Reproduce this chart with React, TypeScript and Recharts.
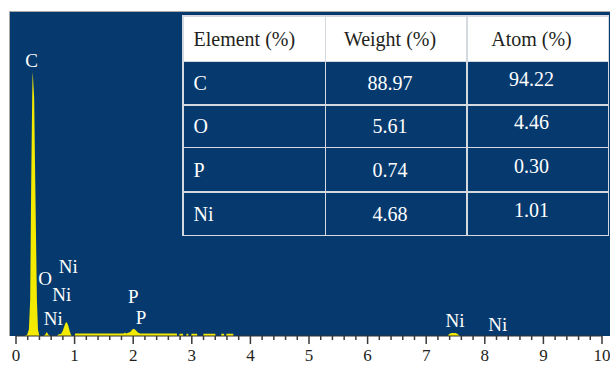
import React from 'react';
import { ComposedChart, Area, XAxis, YAxis, ReferenceDot } from 'recharts';

// EDS spectrum: energy (keV) and counts
const spectrumEnergy = [
  0, 0.15, 0.19, 0.22, 0.242, 0.26, 0.276, 0.283, 0.29, 0.31, 0.328, 0.357, 0.375, 0.4,
  0.47, 0.5, 0.525, 0.55, 0.58,
  0.7, 0.72, 0.77, 0.8, 0.84, 0.865, 0.89, 0.92, 0.94, 0.955,
  1.0, 1.01, 1.84, 1.86, 1.88, 1.95, 1.98, 2.01, 2.04, 2.08, 2.12, 2.745,
  2.75, 2.785, 2.79, 2.85, 2.855, 2.905, 2.91, 2.94, 2.945, 2.99, 2.995, 3.09, 3.095,
  3.195, 3.2, 3.4, 3.405, 3.5, 3.505, 3.55, 3.555, 3.587, 3.592, 3.707, 3.712,
  7.37, 7.39, 7.43, 7.5, 7.54, 7.57, 10,
];
const spectrumCounts = [
  0, 0, 12, 60, 333, 1444, 2200, 2445, 2400, 2200, 1444, 333, 60, 0,
  0, 15, 38, 15, 0,
  0, 15, 20, 50, 115, 130, 100, 40, 10, 0,
  0, 22, 22, 32, 24, 36, 58, 68, 55, 32, 22, 22,
  0, 0, 20, 20, 0, 0, 20, 20, 0, 0, 20, 20, 0,
  0, 20, 20, 0, 0, 20, 20, 0, 0, 20, 20, 0,
  0, 18, 28, 28, 18, 0, 0,
];

// Peak annotations
const peakLabels = ['C', 'O', 'Ni', 'Ni', 'Ni', 'P', 'P', 'Ni', 'Ni'];
const peakLabelEnergy = [0.268, 0.495, 0.892, 0.78, 0.637, 2.0, 2.133, 7.49, 8.22];
const peakLabelCounts = [2556, 537, 642, 389, 164, 370, 169, 148, 111];

// Axis ticks
const majorTicks = [0, 1, 2, 3, 4, 5, 6, 7, 8, 9, 10];
const allTicks = Array.from({ length: 51 }, (_, i) => i / 5);

// Composition table
const tableHeaders = ['Element (%)', 'Weight (%)', 'Atom (%)'];
const elements = ['C', 'O', 'P', 'Ni'];
const weightPct = [88.97, 5.61, 0.74, 4.68];
const atomPct = [94.22, 4.46, 0.3, 1.01];

const data = spectrumEnergy.map((e, i) => ({ energy: e, counts: spectrumCounts[i] }));

const SERIF = '"Liberation Serif", "Times New Roman", serif';
const BLUE = '#063a6e';
const YELLOW = '#f4ea00';
const LINE = '#d4d9e0';

const EnergyTick = (props: any) => {
  const { x, y, payload } = props;
  const v = payload.value as number;
  const major = majorTicks.some((m) => Math.abs(v - m) < 1e-6);
  return (
    <g>
      <line x1={x} y1={y} x2={x} y2={y + (major ? 8 : 4)} stroke="#3a3a3a" strokeWidth={1.5} />
      {major && (
        <text
          x={x}
          y={y + 19.5}
          textAnchor="middle"
          dominantBaseline="central"
          fontFamily={SERIF}
          fontSize={17}
          fill="#231f20"
        >
          {Math.round(v)}
        </text>
      )}
    </g>
  );
};

const rowHeights = [44, 42, 41, 43, 42];

function CompositionTable() {
  const cell = (text: string, col: number, header: boolean, key: string) => (
    <div
      key={key}
      style={{
        background: header ? '#ffffff' : BLUE,
        color: header ? '#231f20' : '#ffffff',
        display: 'flex',
        alignItems: 'center',
        justifyContent: col === 0 ? 'flex-start' : 'center',
        paddingLeft: col === 0 ? 10 : 0,
        paddingRight: col === 0 ? 0 : 12,
        paddingBottom: !header && col === 2 ? 8 : 0,
        boxSizing: 'border-box',
        whiteSpace: 'nowrap',
      }}
    >
      {text}
    </div>
  );
  const cells: React.ReactNode[] = [];
  tableHeaders.forEach((h, c) => cells.push(cell(h, c, true, `h${c}`)));
  elements.forEach((el, r) => {
    cells.push(cell(el, 0, false, `e${r}`));
    cells.push(cell(weightPct[r].toFixed(2), 1, false, `w${r}`));
    cells.push(cell(atomPct[r].toFixed(2), 2, false, `a${r}`));
  });
  return (
    <div
      style={{
        position: 'absolute',
        left: 182,
        top: 15,
        display: 'grid',
        gridTemplateColumns: '141px 140px 140px',
        gridTemplateRows: rowHeights.map((h) => `${h}px`).join(' '),
        gap: 1.5,
        padding: 1.5,
        background: LINE,
        fontFamily: SERIF,
        fontSize: 20,
        lineHeight: 1,
      }}
    >
      {cells}
    </div>
  );
}

export default function App() {
  return (
    <div
      style={{
        position: 'absolute',
        left: 0,
        top: 0,
        width: 610,
        height: 366,
        background: '#ffffff',
        overflow: 'hidden',
      }}
    >
      <div
        style={{
          position: 'absolute',
          left: 9,
          top: 11,
          width: 605,
          height: 325,
          background: BLUE,
          borderTop: '1.5px solid #a9a9a9',
          borderLeft: '1.5px solid #a9a9a9',
          boxSizing: 'border-box',
        }}
      />
      <div style={{ position: 'absolute', left: 0, top: 0 }}>
        <ComposedChart
          width={610}
          height={366}
          data={data}
          margin={{ top: 12, right: 8, bottom: 0, left: 16 }}
        >
          <XAxis
            dataKey="energy"
            type="number"
            domain={[0, 10]}
            ticks={allTicks}
            interval={0}
            height={30}
            tickSize={0}
            tickMargin={0}
            tickLine={false}
            axisLine={{ stroke: '#333333', strokeWidth: 1 }}
            tick={<EnergyTick />}
            allowDataOverflow
          />
          <YAxis
            type="number"
            domain={[0, 3000]}
            width={0}
            tick={false}
            tickLine={false}
            axisLine={{ stroke: '#111111', strokeWidth: 1.2 }}
            allowDataOverflow
          />
          <Area
            type="linear"
            dataKey="counts"
            stroke="none"
            fill={YELLOW}
            fillOpacity={1}
            isAnimationActive={false}
            dot={false}
            activeDot={false}
          />
          {peakLabels.map((t, i) => (
            <ReferenceDot
              key={`pl${i}`}
              x={peakLabelEnergy[i]}
              y={peakLabelCounts[i]}
              r={0}
              fill="none"
              stroke="none"
              label={{
                value: t,
                position: 'center',
                fill: '#ffffff',
                fontSize: 19,
                fontFamily: SERIF,
              }}
            />
          ))}
        </ComposedChart>
      </div>
      <CompositionTable />
    </div>
  );
}
